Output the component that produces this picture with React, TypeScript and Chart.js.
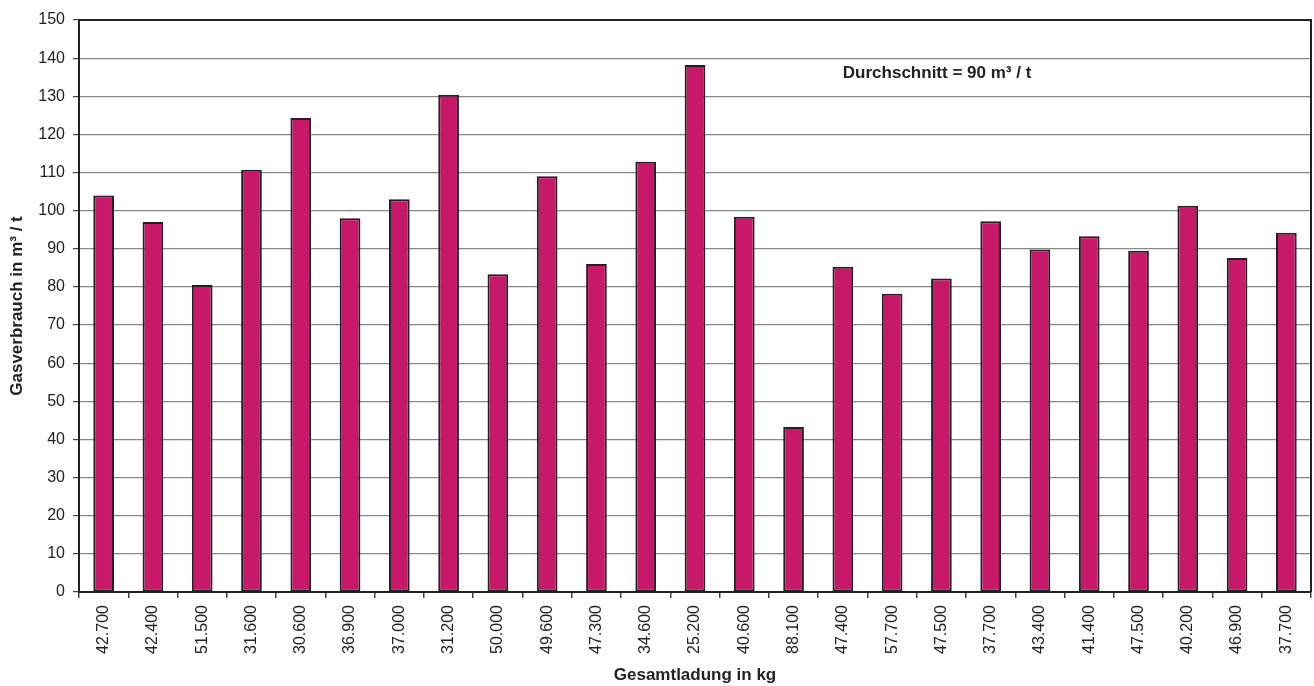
import React, { useEffect, useRef } from "react";
import { Chart, registerables } from "chart.js";

Chart.register(...registerables);

const categories = [
  "42.700", "42.400", "51.500", "31.600", "30.600", "36.900", "37.000", "31.200",
  "50.000", "49.600", "47.300", "34.600", "25.200", "40.600", "88.100", "47.400",
  "57.700", "47.500", "37.700", "43.400", "41.400", "47.500", "40.200", "46.900", "37.700",
];
const gasValues = [
  104, 97, 80.5, 110.7, 124.3, 98, 103, 130.4, 83.3, 109, 86, 112.8, 138.2, 98.4,
  43.3, 85.3, 78.2, 82.2, 97.2, 89.8, 93.3, 89.5, 101.3, 87.6, 94.2,
];
const yTicks = [0, 10, 20, 30, 40, 50, 60, 70, 80, 90, 100, 110, 120, 130, 140, 150];
const annotationText = "Durchschnitt = 90 m³ / t";
const annotationIndex = 15;
const annotationValue = 136;

const FONT = "'Liberation Sans', Arial, sans-serif";

const framePlugin = {
  id: "frame",
  afterDraw(chart: any) {
    const { ctx, chartArea } = chart;
    ctx.save();
    ctx.strokeStyle = "#222";
    ctx.lineWidth = 2;
    ctx.beginPath();
    ctx.moveTo(chartArea.left, chartArea.top);
    ctx.lineTo(chartArea.right, chartArea.top);
    ctx.lineTo(chartArea.right, chartArea.bottom);
    ctx.stroke();
    const xs = chart.scales.x;
    const ys = chart.scales.y;
    ctx.fillStyle = "#222";
    ctx.font = `bold 17px ${FONT}`;
    ctx.textAlign = "left";
    ctx.textBaseline = "middle";
    ctx.fillText(annotationText, xs.getPixelForValue(annotationIndex), ys.getPixelForValue(annotationValue));
    ctx.restore();
  },
};

export default function App() {
  const ref = useRef<HTMLCanvasElement>(null);
  useEffect(() => {
    if (!ref.current) return;
    const chart = new Chart(ref.current, {
      type: "bar",
      data: {
        labels: categories,
        datasets: [
          {
            data: gasValues,
            backgroundColor: "#C8186A",
            borderColor: "#222",
            borderWidth: 2,
            borderSkipped: false,
            barPercentage: 0.42,
            categoryPercentage: 1,
          },
        ],
      },
      options: {
        animation: false,
        responsive: false,
        maintainAspectRatio: false,
        layout: { padding: { left: 0, top: 20, right: 3, bottom: 0 } },
        plugins: { legend: { display: false }, tooltip: { enabled: false } },
        scales: {
          x: {
            offset: true,
            grid: {
              display: true,
              offset: true,
              drawOnChartArea: false,
              drawTicks: true,
              tickLength: 6,
              color: "#444",
              lineWidth: 1.5,
            },
            border: { display: true, color: "#222", width: 2 },
            ticks: {
              color: "#222",
              font: { family: FONT, size: 16 },
              maxRotation: 90,
              minRotation: 90,
              padding: 7,
              autoSkip: false,
            },
            title: {
              display: true,
              text: "Gesamtladung in kg",
              color: "#222",
              font: { family: FONT, size: 17, weight: "bold" },
              padding: { top: 0, bottom: 0 },
            },
            afterFit(axis: any) {
              axis.height = 94;
            },
          },
          y: {
            min: 0,
            max: 150,
            afterBuildTicks(axis: any) {
              axis.ticks = yTicks.map((v) => ({ value: v }));
            },
            grid: {
              color: "#888",
              lineWidth: 1.2,
              tickLength: 6,
              tickColor: "#444",
            },
            border: { display: true, color: "#222", width: 2 },
            ticks: {
              color: "#222",
              font: { family: FONT, size: 16 },
              padding: 8,
            },
            title: {
              display: true,
              text: "Gasverbrauch in m³ / t",
              color: "#222",
              font: { family: FONT, size: 17, weight: "bold" },
              padding: { top: 7, bottom: 0 },
            },
            afterFit(axis: any) {
              axis.width = 79;
            },
          },
        },
      },
      plugins: [framePlugin],
    });
    return () => chart.destroy();
  }, []);
  return (
    <div style={{ position: "absolute", left: 0, top: 0, width: 1314, height: 686, background: "#fff" }}>
      <canvas ref={ref} width={1314} height={686} style={{ width: 1314, height: 686 }} />
    </div>
  );
}
